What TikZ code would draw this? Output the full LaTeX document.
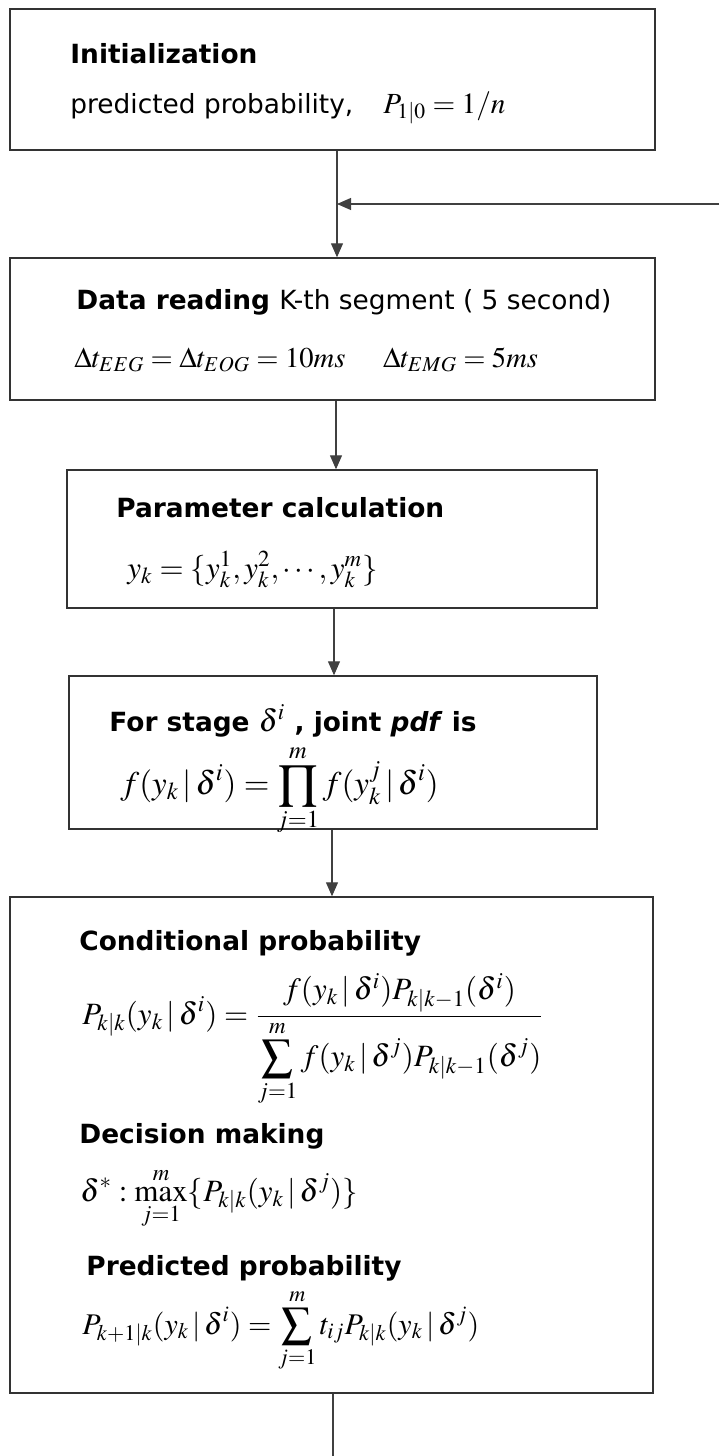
\documentclass[tikz,border=0pt]{standalone}
\usepackage{mathptmx}
\usepackage[no-math]{fontspec}
\setmainfont{DejaVu Sans}
\usetikzlibrary{arrows.meta}
\begin{document}
\begin{tikzpicture}[
  x=0.5pt, y=-0.5pt,
  box/.style={draw=black!80, line width=0.7pt, minimum width=#1, inner sep=0pt},
  head/.style={anchor=base west, inner sep=0pt, font=\fontsize{13.2}{15}\selectfont\bfseries},
  txt/.style={anchor=base west, inner sep=0pt, font=\fontsize{13.2}{15}\selectfont},
  eq/.style={anchor=base west, inner sep=0pt, font=\fontsize{15.5}{18}\selectfont},
  link/.style={draw=black!75, line width=0.55pt},
  arr/.style={link, -{Triangle[length=7pt, width=6pt]}}
]
  \useasboundingbox (0,0) rectangle (719,1456);

  % Initialization
  \node[box=322.5pt, minimum height=70.5pt] (init) at (332.5,79.5) {};
  \node[head] (inith) at (70,63) {Initialization};
  \node[txt] (initt) at (70,113) {predicted probability,\hspace{15pt}{\fontsize{14.6}{17}\selectfont$P_{1|0}=1/n$}};

  % Data reading
  \node[box=322.5pt, minimum height=71pt] (read) at (332.5,329) {};
  \node[head] (readh) at (76,309) {Data reading \mdseries K-th segment ( 5 second)};
  \node[eq, font=\fontsize{14.3}{17}\selectfont] (readt) at (74,367) {$\Delta t_{EEG}=\Delta t_{EOG}=10ms\quad\ \Delta t_{EMG}=5ms$};

  % Parameter calculation
  \node[box=265pt, minimum height=69pt] (param) at (332,539) {};
  \node[head] (paramh) at (116,517) {Parameter calculation};
  \node[eq] (paramt) at (127,578) {$y_k=\{y_k^1,y_k^2,\cdots,y_k^m\}$};

  % Joint pdf
  \node[box=264pt, minimum height=76.5pt] (joint) at (333,752.5) {};
  \node[head] (jointh) at (109,731) {For stage {\fontsize{15.5}{18}\selectfont$\delta^i$} , joint \textit{pdf} is};
  \node[eq, font=\fontsize{16.5}{19}\selectfont] (jointt) at (120,794) {$\displaystyle f(y_k\,|\,\delta^i)=\prod_{j=1}^{m}f(y_k^j\,|\,\delta^i)$};

  % Conditional probability, decision, prediction
  \node[box=321.5pt, minimum height=248pt] (bayes) at (331.5,1145) {};
  \node[head] (condh) at (79,950) {Conditional probability};
  \node[eq] (condt) at (82,1024) {$\displaystyle P_{k|k}(y_k\,|\,\delta^i)=\frac{f(y_k\,|\,\delta^i)P_{k|k-1}(\delta^i)}{\displaystyle\sum_{j=1}^{m}f(y_k\,|\,\delta^j)P_{k|k-1}(\delta^j)}$};
  \node[head] (dech) at (79,1143) {Decision making};
  \node[eq] (dect) at (80,1201) {$\displaystyle \delta^*:\max_{j=1}^{m}\{P_{k|k}(y_k\,|\,\delta^j)\}$};
  \node[head] (predh) at (86,1275) {Predicted probability};
  \node[eq, font=\fontsize{15}{18}\selectfont] (predt) at (82,1334) {$\displaystyle P_{k+1|k}(y_k\,|\,\delta^i)=\sum_{j=1}^{m}t_{ij}P_{k|k}(y_k\,|\,\delta^j)$};

  % Feedback and flow
  \coordinate (back) at (719,204);
  \coordinate (merge) at (337,204);
  \coordinate (out) at (333,1456);
  \draw[arr] ([xshift=2.25pt]init.south) -- ([xshift=2.25pt]read.north);
  \draw[arr] (back) -- (merge);
  \draw[arr] ([xshift=1.75pt]read.south) -- ([xshift=2pt]param.north);
  \draw[arr] ([xshift=1pt]param.south) -- ([xshift=0.5pt]joint.north);
  \draw[arr] ([xshift=-0.5pt]joint.south) -- ([xshift=0.25pt]bayes.north);
  \draw[link] ([xshift=0.75pt]bayes.south) -- (out);
\end{tikzpicture}
\end{document}
